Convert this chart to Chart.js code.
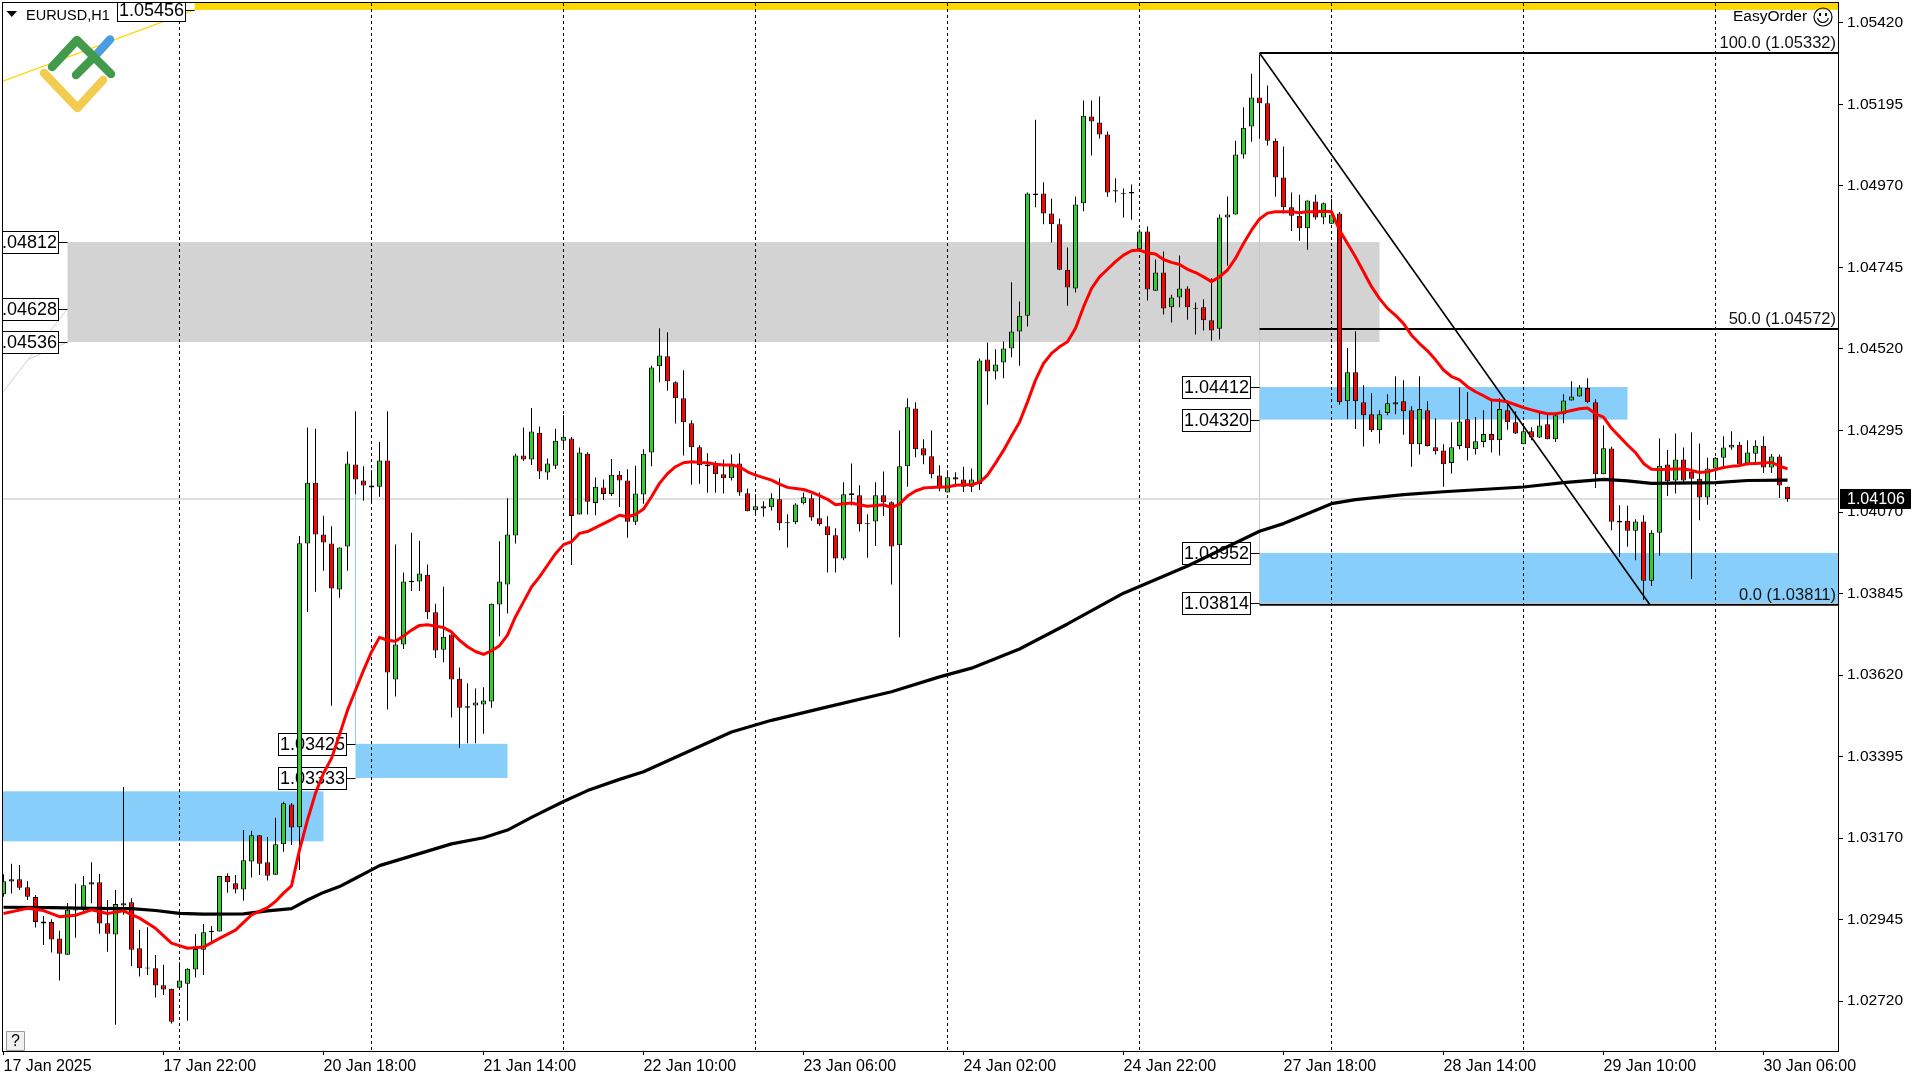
<!DOCTYPE html>
<html><head><meta charset="utf-8"><style>html,body{margin:0;padding:0;background:#fff;overflow:hidden}canvas{display:block}</style>
<script src="https://cdn.jsdelivr.net/npm/chart.js@4/dist/chart.umd.min.js"></script></head>
<body><canvas id="c" width="1920" height="1080" style="width:1920px;height:1080px"></canvas>
<script>
const opens=[1.03015,1.03050,1.03056,1.03034,1.03007,1.02940,1.02938,1.02893,1.02848,1.02970,1.02972,1.03042,1.03048,1.02935,1.02904,1.02984,1.02993,1.02866,1.02813,1.02811,
1.02764,1.02754,1.02757,1.02768,1.02807,1.02862,1.02911,1.02912,1.03065,1.03045,1.03028,1.03105,1.03178,1.03103,1.03069,1.03153,1.03263,1.03200,1.03983,1.04151,
1.04008,1.03983,1.03856,1.03975,1.04201,1.04157,1.04143,1.04140,1.04212,1.03608,1.03704,1.03876,1.03878,1.03897,1.03793,1.03690,1.03732,1.03610,1.03534,1.03536,
1.03539,1.03547,1.03815,1.03870,1.04005,1.04226,1.04215,1.04289,1.04179,1.04198,1.04267,1.04273,1.04063,1.04231,1.04095,1.04138,1.04120,1.04173,1.04157,1.04043,
1.04118,1.04234,1.04472,1.04500,1.04428,1.04384,1.04315,1.04249,1.04201,1.04202,1.04174,1.04163,1.04204,1.04122,1.04075,1.04086,1.04083,1.04105,1.04042,1.04042,
1.04094,1.04108,1.04053,1.04031,1.04006,1.03942,1.04122,1.04116,1.04039,1.04044,1.04116,1.04097,1.03978,1.04196,1.04356,1.04246,1.04224,1.04171,1.04124,1.04166,
1.04160,1.04140,1.04147,1.04491,1.04458,1.04483,1.04521,1.04568,1.04612,1.04949,1.04949,1.04894,1.04864,1.04739,1.04687,1.04922,1.05162,1.05145,1.05112,1.04955,
1.04947,1.04953,1.04795,1.04844,1.04681,1.04731,1.04635,1.04662,1.04687,1.04634,1.04635,1.04599,1.04576,1.04883,1.04891,1.05057,1.05134,1.05214,1.05198,1.05095,
1.04993,1.04911,1.04888,1.04853,1.04927,1.04883,1.04866,1.04894,1.04376,1.04456,1.04373,1.04340,1.04296,1.04343,1.04367,1.04376,1.04351,1.04257,1.04351,1.04249,
1.04240,1.04205,1.04252,1.04326,1.04243,1.04263,1.04285,1.04268,1.04351,1.04318,1.04257,1.04293,1.04276,1.04312,1.04271,1.04340,1.04378,1.04389,1.04412,1.04373,
1.04174,1.04245,1.04041,1.04046,1.04018,1.04044,1.03880,1.04013,1.04201,1.04157,1.04215,1.04181,1.04162,1.04110,1.04190,1.04220,1.04248,1.04256,1.04201,1.04231,
1.04253,1.04193,1.04223,1.04140];
const highs=[1.03070,1.03099,1.03096,1.03051,1.03013,1.02955,1.02946,1.02914,1.02991,1.03044,1.03065,1.03103,1.03071,1.02999,1.03027,1.03311,1.03004,1.02916,1.02924,1.02847,
1.02820,1.02754,1.02827,1.02811,1.02905,1.02933,1.02927,1.03065,1.03073,1.03068,1.03192,1.03190,1.03178,1.03173,1.03226,1.03270,1.03266,1.04004,1.04303,1.04300,
1.04060,1.04031,1.03972,1.04237,1.04348,1.04196,1.04185,1.04263,1.04348,1.03980,1.03903,1.04013,1.03991,1.03925,1.03817,1.03864,1.03732,1.03641,1.03597,1.03583,
1.03586,1.03817,1.03989,1.04108,1.04231,1.04303,1.04357,1.04306,1.04218,1.04300,1.04337,1.04277,1.04248,1.04235,1.04165,1.04160,1.04216,1.04183,1.04188,1.04198,
1.04243,1.04474,1.04577,1.04566,1.04431,1.04461,1.04323,1.04254,1.04232,1.04210,1.04215,1.04229,1.04232,1.04135,1.04119,1.04100,1.04122,1.04163,1.04064,1.04094,
1.04124,1.04119,1.04124,1.04058,1.04025,1.04152,1.04204,1.04144,1.04064,1.04152,1.04182,1.04100,1.04295,1.04384,1.04373,1.04271,1.04295,1.04199,1.04185,1.04180,
1.04195,1.04190,1.04494,1.04538,1.04519,1.04541,1.04704,1.04651,1.04952,1.05153,1.04980,1.04935,1.04880,1.04800,1.04941,1.05206,1.05206,1.05217,1.05120,1.04991,
1.04963,1.04974,1.04850,1.04858,1.04767,1.04789,1.04670,1.04778,1.04693,1.04648,1.04657,1.04715,1.04891,1.04941,1.05095,1.05187,1.05280,1.05332,1.05247,1.05101,
1.05079,1.04952,1.04946,1.04930,1.04946,1.04924,1.04935,1.04898,1.04523,1.04569,1.04420,1.04398,1.04351,1.04395,1.04445,1.04434,1.04362,1.04445,1.04376,1.04329,
1.04257,1.04318,1.04414,1.04401,1.04332,1.04351,1.04378,1.04384,1.04378,1.04348,1.04304,1.04304,1.04343,1.04343,1.04345,1.04395,1.04431,1.04420,1.04439,1.04381,
1.04309,1.04250,1.04089,1.04087,1.04050,1.04061,1.04020,1.04273,1.04241,1.04287,1.04248,1.04290,1.04259,1.04220,1.04222,1.04279,1.04293,1.04264,1.04268,1.04268,
1.04279,1.04230,1.04229,1.04140];
const lows=[1.03008,1.03017,1.03027,1.02999,1.02923,1.02875,1.02854,1.02777,1.02848,1.02895,1.02967,1.02990,1.02906,1.02856,1.02655,1.02958,1.02817,1.02788,1.02792,1.02730,
1.02737,1.02658,1.02757,1.02666,1.02785,1.02792,1.02884,1.02912,1.03019,1.03018,1.02997,1.03061,1.03068,1.03053,1.03069,1.03132,1.03151,1.03082,1.03794,1.03850,
1.03908,1.03535,1.03833,1.03908,1.04120,1.04101,1.04095,1.04112,1.03525,1.03561,1.03692,1.03852,1.03852,1.03775,1.03667,1.03655,1.03503,1.03419,1.03432,1.03432,
1.03458,1.03530,1.03727,1.03790,1.03983,1.04211,1.04200,1.04161,1.04159,1.04189,1.04241,1.03924,1.04063,1.04063,1.04061,1.04103,1.04114,1.04084,1.03999,1.04034,
1.04093,1.04196,1.04428,1.04405,1.04314,1.04226,1.04145,1.04148,1.04123,1.04123,1.04121,1.04157,1.04115,1.04072,1.04061,1.04057,1.04074,1.04020,1.03972,1.04036,
1.04091,1.04046,1.04032,1.03903,1.03903,1.03937,1.04088,1.04016,1.03944,1.03976,1.04059,1.03870,1.03724,1.04140,1.04221,1.04202,1.04163,1.04127,1.04124,1.04140,
1.04125,1.04125,1.04131,1.04366,1.04436,1.04439,1.04497,1.04474,1.04582,1.04911,1.04864,1.04814,1.04737,1.04639,1.04676,1.04900,1.05054,1.05101,1.04940,1.04924,
1.04883,1.04877,1.04795,1.04654,1.04681,1.04615,1.04593,1.04635,1.04601,1.04560,1.04571,1.04543,1.04546,1.04750,1.04891,1.05046,1.05092,1.05100,1.05082,1.04940,
1.04894,1.04846,1.04819,1.04794,1.04877,1.04864,1.04866,1.04366,1.04327,1.04299,1.04251,1.04291,1.04259,1.04337,1.04340,1.04283,1.04195,1.04229,1.04251,1.04229,
1.04140,1.04176,1.04243,1.04212,1.04229,1.04249,1.04234,1.04226,1.04297,1.04285,1.04257,1.04268,1.04274,1.04271,1.04263,1.04315,1.04378,1.04389,1.04370,1.04136,
1.04174,1.04020,1.03946,1.03974,1.03937,1.03827,1.03866,1.03949,1.04114,1.04121,1.04153,1.03885,1.04047,1.04090,1.04162,1.04195,1.04242,1.04196,1.04199,1.04204,
1.04178,1.04178,1.04109,1.04098];
const closes=[1.03051,1.03056,1.03033,1.03008,1.02938,1.02934,1.02890,1.02851,1.02972,1.02973,1.03040,1.03048,1.02934,1.02906,1.02988,1.02990,1.02862,1.02811,1.02810,1.02763,
1.02752,1.02663,1.02777,1.02809,1.02864,1.02910,1.02914,1.03065,1.03048,1.03028,1.03109,1.03178,1.03099,1.03066,1.03153,1.03266,1.03199,1.03984,1.04151,1.04008,
1.03986,1.03859,1.03972,1.04204,1.04160,1.04143,1.04138,1.04212,1.03627,1.03704,1.03878,1.03880,1.03900,1.03793,1.03688,1.03726,1.03608,1.03530,1.03530,1.03544,
1.03550,1.03817,1.03878,1.04008,1.04226,1.04215,1.04292,1.04182,1.04204,1.04267,1.04278,1.04059,1.04234,1.04098,1.04140,1.04120,1.04173,1.04157,1.04043,1.04121,
1.04231,1.04469,1.04502,1.04431,1.04384,1.04318,1.04249,1.04199,1.04197,1.04174,1.04163,1.04202,1.04124,1.04072,1.04086,1.04080,1.04108,1.04039,1.04039,1.04091,
1.04111,1.04055,1.04036,1.04006,1.03942,1.04119,1.04116,1.04036,1.04036,1.04116,1.04097,1.03975,1.04196,1.04359,1.04243,1.04226,1.04174,1.04135,1.04166,1.04160,
1.04140,1.04160,1.04488,1.04458,1.04477,1.04521,1.04568,1.04612,1.04949,1.04945,1.04894,1.04864,1.04739,1.04690,1.04919,1.05164,1.05148,1.05112,1.04952,1.04958,
1.04950,1.04949,1.04844,1.04684,1.04731,1.04632,1.04662,1.04687,1.04635,1.04631,1.04599,1.04571,1.04883,1.04891,1.05057,1.05131,1.05214,1.05198,1.05095,1.04993,
1.04911,1.04888,1.04853,1.04930,1.04883,1.04922,1.04891,1.04373,1.04456,1.04376,1.04337,1.04296,1.04340,1.04370,1.04373,1.04348,1.04257,1.04354,1.04252,1.04238,
1.04202,1.04249,1.04320,1.04246,1.04265,1.04285,1.04268,1.04354,1.04318,1.04287,1.04293,1.04276,1.04309,1.04271,1.04337,1.04378,1.04389,1.04414,1.04373,1.04174,
1.04246,1.04043,1.04046,1.04018,1.04044,1.03880,1.04013,1.04198,1.04155,1.04215,1.04157,1.04162,1.04110,1.04190,1.04220,1.04248,1.04256,1.04201,1.04234,1.04253,
1.04193,1.04223,1.04143,1.04106];
const redMA=[1.02962,null,null,1.02976,null,1.02970,null,1.02953,null,1.02957,null,1.02972,null,1.02962,null,1.02969,null,1.02949,null,1.02921,null,1.02880,null,1.02866,null,1.02869,null,1.02893,null,1.02916,null,1.02958,null,1.02978,
1.02995,1.03018,1.03038,1.03137,1.03220,1.03294,1.03349,1.03390,1.03455,1.03523,1.03578,1.03633,1.03684,1.03724,1.03716,1.03713,1.03728,1.03744,1.03757,1.03759,1.03755,1.03751,1.03739,1.03716,1.03698,1.03685,1.03677,1.03687,1.03701,1.03730,1.03781,1.03822,1.03863,1.03891,1.03923,1.03955,
1.03980,1.03988,1.04011,1.04016,1.04027,1.04038,1.04049,1.04061,1.04057,1.04063,1.04078,1.04112,1.04149,1.04176,1.04195,1.04206,1.04209,1.04207,1.04206,1.04202,1.04200,1.04200,1.04195,1.04181,1.04172,1.04165,1.04158,1.04147,1.04138,1.04135,1.04132,1.04125,1.04115,1.04105,1.04090,1.04093,1.04095,1.04090,1.04086,1.04088,1.04090,1.04082,1.04092,1.04114,1.04128,1.04136,1.04138,1.04139,1.04139,1.04144,1.04145,1.04145,
1.04152,1.04172,1.04205,1.04240,1.04280,1.04318,1.04374,1.04434,1.04480,1.04508,1.04526,1.04540,1.04577,1.04636,1.04687,1.04719,1.04740,1.04761,1.04779,1.04791,1.04793,1.04785,1.04782,1.04767,1.04759,1.04753,1.04740,1.04731,1.04719,1.04706,1.04719,1.04738,1.04770,1.04811,1.04848,1.04879,1.04895,1.04899,
1.04899,1.04899,1.04896,1.04899,1.04899,1.04900,1.04899,1.04848,1.04811,1.04774,1.04733,1.04692,1.04659,1.04632,1.04613,1.04590,1.04558,1.04535,1.04515,1.04490,1.04462,1.04444,1.04435,1.04416,1.04402,1.04391,1.04379,1.04378,1.04374,1.04366,1.04358,1.04352,1.04346,1.04341,1.04341,1.04345,1.04350,1.04355,1.04357,1.04341,1.04332,1.04301,1.04278,1.04255,1.04234,1.04204,1.04188,1.04187,1.04188,1.04189,1.04189,1.04185,1.04179,1.04181,1.04187,1.04193,1.04196,1.04198,1.04203,1.04204,1.04205,1.04207,1.04197,1.04189];
const blackIdx=[0,6,11,16,19,22,25,30,33,36,38,40,42,44,46,47,50,53,56,60,63,66,70,73,77,80,91,96,103,111,117,121,127,133,140,148,157,160,162,166,169,175,180,190,195,200,203,206,214,218,223];
const blackMA=[1.02979,1.02978,1.02976,1.02975,1.02970,1.02962,1.02960,1.02961,1.02969,1.02975,1.02999,1.03020,1.03036,1.03059,1.03082,1.03094,1.03114,1.03134,1.03154,1.03171,1.03192,1.03227,1.03271,1.03301,1.03332,1.03353,1.03463,1.03495,1.03532,1.03574,1.03615,1.03639,1.03692,1.03761,1.03846,1.03921,1.04017,1.04038,1.04056,1.04093,1.04104,1.04118,1.04126,1.04139,1.04151,1.04160,1.04156,1.04149,1.04151,1.04157,1.04158];
const xTickLabels=["17 Jan 2025","17 Jan 22:00","20 Jan 18:00","21 Jan 14:00","22 Jan 10:00","23 Jan 06:00","24 Jan 02:00","24 Jan 22:00","27 Jan 18:00","28 Jan 14:00","29 Jan 10:00","30 Jan 06:00"];
const xTickIdx=[0,20,40,60,80,100,120,140,160,180,200,220];
const yTicks=[1.0272,1.02945,1.0317,1.03395,1.0362,1.03845,1.0407,1.04295,1.0452,1.04745,1.0497,1.05195,1.0542];
const separators=[22,46,70,94,118,142,166,190,214];
const xMin=-0.0625,xMax=229.31,yMin=1.025795,yMax=1.05475;
const zones=[[8,172,1.04815,1.04539,"#D3D3D3"],[xMin,40,1.03299,1.03161,"#87CEFA"],[44,63,1.03430,1.03336,"#87CEFA"],[157,203,1.04415,1.04325,"#87CEFA"],[157,xMax,1.03957,1.03819,"#87CEFA"],[23.9,xMax,1.05475,1.05456,"#FFD700"]];
// price tags: drawn level, index where the short tick ends, printed text
const priceTags=[[1.05456,23.9,"1.05456"],[1.04815,8,"1.04812"],[1.04631,8,"1.04628"],[1.04539,8,"1.04536"],[1.03430,44,"1.03425"],[1.03336,44,"1.03333"],[1.04415,157,"1.04412"],[1.04325,157,"1.04320"],[1.03957,157,"1.03952"],[1.03819,157,"1.03814"]];
const fibLevels=[1.05337,1.04575,1.03814];
const fibTexts=["100.0 (1.05332)","50.0 (1.04572)","0.0 (1.03811)"];
const lastPrice=1.04106;
const FONT='"Liberation Sans",Arial,sans-serif';

const GREEN="#32CD32",RED="#FF0000";
const idx=opens.map((_,i)=>i);
const wicks=idx.map(i=>({x:i,y:[lows[i],highs[i]]}));
const bodies=idx.map(i=>({x:i,y:[opens[i],closes[i]]}));
const bodyColors=idx.map(i=>closes[i]>=opens[i]?GREEN:RED);
const lineBase={type:"line",pointRadius:0,fill:false,tension:0,borderJoinStyle:"round"};

const sceneBack={id:"sceneBack",beforeDatasetsDraw(ch){
  const c=ch.ctx,a=ch.chartArea,X=ch.scales.x,Y=ch.scales.y;
  c.save();c.beginPath();c.rect(a.left,a.top,a.width,a.height);c.clip();
  zones.forEach(z=>{const x0=X.getPixelForValue(z[0]),x1=X.getPixelForValue(z[1]),y0=Y.getPixelForValue(z[2]),y1=Y.getPixelForValue(z[3]);c.fillStyle=z[4];c.fillRect(x0,y0,x1-x0,y1-y0);});
  // thin helper lines
  const seg=(i0,p0,i1,p1,col,w)=>{c.strokeStyle=col;c.lineWidth=w;c.beginPath();c.moveTo(X.getPixelForValue(i0),Y.getPixelForValue(p0));c.lineTo(X.getPixelForValue(i1),Y.getPixelForValue(p1));c.stroke();};
  seg(xMin,lastPrice,xMax,lastPrice,"#C0C0C0",1);
  seg(157,fibLevels[0],157,fibLevels[2],"#C8C8C8",1);
  seg(44,1.04122,44,1.03430,"#87CEFA",1);
  seg(8,1.04631,xMin,1.04401,"#D0D0D0",1);
  seg(8,1.04539,3.2,1.04492,"#D0D0D0",1);
  seg(xMin,1.05259,23.9,1.05456,"#FFD700",1.2);
  // period separators
  c.setLineDash([3,3]);
  separators.forEach(s=>seg(s,yMax,s,yMin,"#000",1));
  c.setLineDash([]);
  // price tags
  c.font='18px '+FONT;c.textBaseline="middle";c.textAlign="center";
  priceTags.forEach(t=>{const end=X.getPixelForValue(t[1]),y=Math.round(Y.getPixelForValue(t[0]))+0.5,bw=68,bh=22;
    const x1=Math.round(end-9.5)+0.5;const x0=x1-bw;
    c.strokeStyle="#000";c.lineWidth=1;c.beginPath();c.moveTo(x1,y);c.lineTo(end,y);c.stroke();
    c.fillStyle="#fff";c.fillRect(x0,y-bh/2,bw,bh);c.strokeRect(x0,y-bh/2,bw,bh);
    c.fillStyle="#000";c.fillText(t[2],x0+bw/2,y+1);});
  c.restore();
}};
const sceneFront={id:"sceneFront",afterDraw(ch){
  const c=ch.ctx,a=ch.chartArea,Y=ch.scales.y;
  c.save();
  // frame
  c.strokeStyle="#000";c.lineWidth=1;c.strokeRect(2.5,2.5,a.right-2,a.bottom-3);
  // fibo texts
  c.fillStyle="#111";c.font='16.5px '+FONT;c.textAlign="right";c.textBaseline="bottom";
  fibLevels.forEach((p,i)=>c.fillText(fibTexts[i],a.right-2,Y.getPixelForValue(p)-1));
  // chart title
  c.textAlign="left";c.textBaseline="middle";c.font='14.5px '+FONT;c.fillStyle="#000";
  c.fillText("EURUSD,H1",26,15.5);
  c.beginPath();c.moveTo(6.5,11);c.lineTo(17,11);c.lineTo(11.75,17);c.closePath();c.fill();
  // EasyOrder
  c.font='15.5px '+FONT;c.fillText("EasyOrder",1733,16.5);
  c.lineWidth=1.2;c.beginPath();c.arc(1823,17,9,0,Math.PI*2);c.stroke();
  c.fillRect(1819,13,2,3);c.fillRect(1825,13,2,3);
  c.beginPath();c.arc(1823,17,5.5,0.2,Math.PI-0.2);c.stroke();
  // logo
  c.lineCap="round";c.lineJoin="round";c.lineWidth=8.5;
  c.strokeStyle="#4A9EE0";c.beginPath();c.moveTo(95,56);c.lineTo(110,39.5);c.stroke();
  c.strokeStyle="#F2CC4F";c.beginPath();c.moveTo(44,73);c.lineTo(77.5,108);c.lineTo(103,80);c.stroke();
  c.strokeStyle="#429A4B";c.beginPath();c.moveTo(52,67);c.lineTo(77,40);c.lineTo(111,74);c.stroke();
  c.beginPath();c.moveTo(76,75);c.lineTo(94,57);c.stroke();
  c.lineCap="butt";
  // help button
  c.lineWidth=1;c.fillStyle="#F0F0F0";c.fillRect(6.5,1031.5,18,19);c.strokeStyle="#9a9a9a";c.strokeRect(6.5,1031.5,18,19);
  c.fillStyle="#000";c.font='16px '+FONT;c.textAlign="center";c.fillText("?",15.5,1042);
  // last price tag
  const y=Y.getPixelForValue(lastPrice);
  c.fillStyle="#000";c.fillRect(1840,y-10,71,20);
  c.fillStyle="#fff";c.font='16px '+FONT;c.textAlign="left";c.fillText(lastPrice.toFixed(5),1847,y+1);
  c.restore();
}};

new Chart(document.getElementById("c"),{
  type:"bar",
  data:{datasets:[
    {...lineBase,label:"fib100",order:9,borderColor:"#000",borderWidth:2,data:[{x:157,y:fibLevels[0]},{x:xMax,y:fibLevels[0]}]},
    {...lineBase,label:"fib50",order:9,borderColor:"#000",borderWidth:2,data:[{x:157,y:fibLevels[1]},{x:xMax,y:fibLevels[1]}]},
    {...lineBase,label:"fib0",order:9,borderColor:"#000",borderWidth:2,data:[{x:157,y:fibLevels[2]},{x:xMax,y:fibLevels[2]}]},
    {...lineBase,label:"fibTrend",order:9,borderColor:"#000",borderWidth:1.6,data:[{x:157,y:fibLevels[0]},{x:205.8,y:fibLevels[2]}]},
    {label:"wicks",order:5,grouped:false,data:wicks,backgroundColor:"#000",borderWidth:0,barThickness:1,inflateAmount:0},
    {label:"bodies",order:4,grouped:false,data:bodies,backgroundColor:bodyColors,borderColor:"#000",borderWidth:1,borderSkipped:false,barThickness:5,inflateAmount:0},
    {...lineBase,label:"MA200",order:3,borderColor:"#000",borderWidth:3.2,data:blackIdx.map((x,i)=>({x,y:blackMA[i]}))},
    {...lineBase,label:"MA20",order:2,borderColor:"#FF0000",borderWidth:3,spanGaps:true,data:redMA.map((y,x)=>({x,y})).filter(p=>p.y!==null)}
  ]},
  options:{
    responsive:false,animation:false,devicePixelRatio:1,
    layout:{padding:{left:3,top:3,right:0,bottom:0}},
    plugins:{legend:{display:false},title:{display:false},tooltip:{enabled:false}},
    scales:{
      x:{type:"linear",min:xMin,max:xMax,offset:false,
        grid:{drawOnChartArea:false,drawTicks:true,tickLength:3,tickColor:"#000",offset:false},border:{display:false},
        afterFit(s){s.height=28;s.paddingLeft=0;s.paddingRight=0;},
        afterBuildTicks(s){s.ticks=xTickIdx.map(v=>({value:v}));},
        ticks:{autoSkip:false,maxRotation:0,minRotation:0,align:"start",padding:2,color:"#000",font:{family:FONT,size:16},
          callback(v){return xTickLabels[xTickIdx.indexOf(v)];}}},
      y:{type:"linear",position:"right",min:yMin,max:yMax,
        grid:{drawOnChartArea:false,drawTicks:true,tickLength:5,tickColor:"#000"},border:{display:false},
        afterFit(s){s.width=82;s.paddingTop=0;s.paddingBottom=0;},
        afterBuildTicks(s){s.ticks=yTicks.map(v=>({value:v}));},
        ticks:{autoSkip:false,padding:4,color:"#000",font:{family:FONT,size:15.5},callback(v){return v.toFixed(5);}}}
    }
  },
  plugins:[sceneBack,sceneFront]
});
</script></body></html>
